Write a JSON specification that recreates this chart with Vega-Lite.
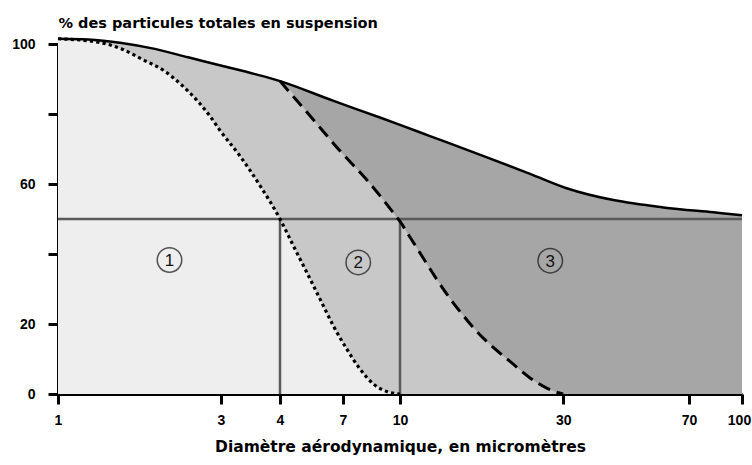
{
  "$schema": "https://vega.github.io/schema/vega-lite/v6.json",
  "width": 684,
  "height": 350,
  "autosize": {"type": "none"},
  "padding": {"left": 58, "top": 44, "right": 10, "bottom": 71},
  "background": "white",
  "config": {"view": {"stroke": null}},
  "datasets": {
    "courbes": [
      {"d": 1, "fraction": "inhalable", "v": 101.5},
      {"d": 1.226, "fraction": "inhalable", "v": 101.3},
      {"d": 1.536, "fraction": "inhalable", "v": 100.3},
      {"d": 1.921, "fraction": "inhalable", "v": 98.6},
      {"d": 2.404, "fraction": "inhalable", "v": 96.2},
      {"d": 3.01, "fraction": "inhalable", "v": 93.8},
      {"d": 3.54, "fraction": "inhalable", "v": 91.4},
      {"d": 4, "fraction": "inhalable", "v": 89.4},
      {"d": 6.4, "fraction": "inhalable", "v": 83.8},
      {"d": 8.82, "fraction": "inhalable", "v": 79.0},
      {"d": 10, "fraction": "inhalable", "v": 76.9},
      {"d": 12.24, "fraction": "inhalable", "v": 73.7},
      {"d": 17.1, "fraction": "inhalable", "v": 68.4},
      {"d": 24, "fraction": "inhalable", "v": 62.9},
      {"d": 30.7, "fraction": "inhalable", "v": 58.8},
      {"d": 42.1, "fraction": "inhalable", "v": 55.4},
      {"d": 58.9, "fraction": "inhalable", "v": 53.3},
      {"d": 82.4, "fraction": "inhalable", "v": 51.9},
      {"d": 100, "fraction": "inhalable", "v": 51.1},
      {"d": 1, "fraction": "thoracique", "v": 101.5},
      {"d": 1.226, "fraction": "thoracique", "v": 101.3},
      {"d": 1.536, "fraction": "thoracique", "v": 100.3},
      {"d": 1.921, "fraction": "thoracique", "v": 98.6},
      {"d": 2.404, "fraction": "thoracique", "v": 96.2},
      {"d": 3.01, "fraction": "thoracique", "v": 93.8},
      {"d": 3.54, "fraction": "thoracique", "v": 91.4},
      {"d": 4, "fraction": "thoracique", "v": 89.4},
      {"d": 5.22, "fraction": "thoracique", "v": 79.5},
      {"d": 6.81, "fraction": "thoracique", "v": 69.5},
      {"d": 8.12, "fraction": "thoracique", "v": 61.2},
      {"d": 9.59, "fraction": "thoracique", "v": 51.8},
      {"d": 10, "fraction": "thoracique", "v": 49.3},
      {"d": 10.7, "fraction": "thoracique", "v": 44.8},
      {"d": 11.7, "fraction": "thoracique", "v": 38.8},
      {"d": 12.8, "fraction": "thoracique", "v": 32.8},
      {"d": 14, "fraction": "thoracique", "v": 27.3},
      {"d": 15.31, "fraction": "thoracique", "v": 22.4},
      {"d": 16.76, "fraction": "thoracique", "v": 17.9},
      {"d": 18.74, "fraction": "thoracique", "v": 13.3},
      {"d": 20.97, "fraction": "thoracique", "v": 9.3},
      {"d": 24, "fraction": "thoracique", "v": 4.6},
      {"d": 26.85, "fraction": "thoracique", "v": 1.7},
      {"d": 29.4, "fraction": "thoracique", "v": 0.2},
      {"d": 30, "fraction": "thoracique", "v": 0},
      {"d": 1, "fraction": "alveolaire", "v": 101.5},
      {"d": 1.311, "fraction": "alveolaire", "v": 100.5},
      {"d": 1.536, "fraction": "alveolaire", "v": 98.6},
      {"d": 1.757, "fraction": "alveolaire", "v": 95.7},
      {"d": 2.055, "fraction": "alveolaire", "v": 92.2},
      {"d": 2.3, "fraction": "alveolaire", "v": 88.3},
      {"d": 2.6, "fraction": "alveolaire", "v": 83.0},
      {"d": 2.78, "fraction": "alveolaire", "v": 79.5},
      {"d": 2.98, "fraction": "alveolaire", "v": 75.3},
      {"d": 3.29, "fraction": "alveolaire", "v": 68.0},
      {"d": 3.63, "fraction": "alveolaire", "v": 59.5},
      {"d": 4, "fraction": "alveolaire", "v": 50},
      {"d": 4.5, "fraction": "alveolaire", "v": 42.4},
      {"d": 5.07, "fraction": "alveolaire", "v": 34.8},
      {"d": 5.71, "fraction": "alveolaire", "v": 27.1},
      {"d": 6.42, "fraction": "alveolaire", "v": 19.5},
      {"d": 7.16, "fraction": "alveolaire", "v": 12.9},
      {"d": 7.79, "fraction": "alveolaire", "v": 7.1},
      {"d": 8.46, "fraction": "alveolaire", "v": 2.9},
      {"d": 9.2, "fraction": "alveolaire", "v": 0.7},
      {"d": 10, "fraction": "alveolaire", "v": 0}
    ],
    "seuils": [
      {"d": 4, "bas": 0, "haut": 50},
      {"d": 10, "bas": 0, "haut": 50}
    ],
    "niveau": [
      {"debut": 1, "fin": 100, "v": 50}
    ],
    "zones": [
      {"d": 2.12, "v": 38.3, "num": "1"},
      {"d": 7.7, "v": 37.6, "num": "2"},
      {"d": 27.5, "v": 38.1, "num": "3"}
    ]
  },
  "encoding": {
    "x": {
      "field": "d",
      "type": "quantitative",
      "scale": {"type": "log", "domain": [1, 3, 4, 7, 10, 100], "range": [0, 163, 222, 285, 342, 684], "nice": false},
      "axis": {
        "values": [1, 3, 4, 7, 10, 30, 70, 100],
        "labelExpr": "'' + datum.value",
        "labelOffset": {"condition": {"test": "datum.value == 100", "value": -3}, "value": 0},
        "title": "Diamètre aérodynamique, en micromètres",
        "titleFont": "DejaVu Sans",
        "titleFontSize": 15.5,
        "titleFontWeight": "bold",
        "titleColor": "black",
        "titleY": 52,
        "titleBaseline": "middle",
        "labelFont": "Liberation Sans",
        "labelFontWeight": "bold",
        "labelFontSize": 14,
        "labelColor": "black",
        "labelPadding": 9,
        "labelFlush": false,
        "labelOverlap": false,
        "domainColor": "black",
        "domainWidth": 3,
        "tickColor": "black",
        "tickWidth": 3,
        "tickSize": 10,
        "grid": false
      }
    },
    "y": {
      "field": "v",
      "type": "quantitative",
      "scale": {"domain": [0, 100], "nice": false, "zero": false},
      "axis": {
        "values": [0, 20, 40, 60, 80, 100],
        "labelExpr": "datum.value == 40 || datum.value == 80 ? '' : datum.label",
        "title": "% des particules totales en suspension",
        "titleAngle": 0,
        "titleAlign": "left",
        "titleBaseline": "middle",
        "titleX": 0,
        "titleY": -21,
        "titleFont": "DejaVu Sans",
        "titleFontSize": 14.5,
        "titleFontWeight": "bold",
        "titleColor": "black",
        "labelFont": "Liberation Sans",
        "labelFontWeight": "bold",
        "labelFontSize": 14,
        "labelColor": "black",
        "labelPadding": 13,
        "domainColor": "black",
        "domainWidth": 3,
        "tickColor": "black",
        "tickWidth": 3,
        "tickSize": 10,
        "grid": false
      }
    }
  },
  "layer": [
    {
      "data": {"name": "courbes"},
      "transform": [{"filter": "datum.fraction == 'inhalable'"}],
      "mark": {"type": "area", "color": "#a6a6a6", "interpolate": "monotone"},
      "encoding": {"y": {"field": "v", "type": "quantitative", "stack": null}}
    },
    {
      "data": {"name": "courbes"},
      "transform": [{"filter": "datum.fraction == 'thoracique'"}],
      "mark": {"type": "area", "color": "#c8c8c8", "interpolate": "monotone"},
      "encoding": {"y": {"field": "v", "type": "quantitative", "stack": null}}
    },
    {
      "data": {"name": "courbes"},
      "transform": [{"filter": "datum.fraction == 'alveolaire'"}],
      "mark": {"type": "area", "color": "#eeeeee", "interpolate": "monotone"},
      "encoding": {"y": {"field": "v", "type": "quantitative", "stack": null}}
    },
    {
      "data": {"name": "niveau"},
      "mark": {"type": "rule", "color": "#5a5a5a", "strokeWidth": 2.5},
      "encoding": {
        "x": {"field": "debut", "type": "quantitative"},
        "x2": {"field": "fin"},
        "y": {"field": "v", "type": "quantitative"}
      }
    },
    {
      "data": {"name": "seuils"},
      "mark": {"type": "rule", "color": "#5a5a5a", "strokeWidth": 2.5},
      "encoding": {
        "y": {"field": "bas", "type": "quantitative"},
        "y2": {"field": "haut"}
      }
    },
    {
      "data": {"name": "courbes"},
      "transform": [{"filter": "datum.fraction == 'inhalable'"}],
      "mark": {"type": "line", "color": "black", "strokeWidth": 2.5, "interpolate": "monotone"},
      "encoding": {}
    },
    {
      "data": {"name": "courbes"},
      "transform": [{"filter": "datum.fraction == 'thoracique' && datum.d >= 4"}],
      "mark": {"type": "line", "color": "black", "strokeWidth": 3, "strokeDash": [13, 7], "interpolate": "monotone"},
      "encoding": {}
    },
    {
      "data": {"name": "courbes"},
      "transform": [{"filter": "datum.fraction == 'alveolaire'"}],
      "mark": {"type": "line", "color": "black", "strokeWidth": 3.2, "strokeDash": [3.2, 3.2], "interpolate": "monotone"},
      "encoding": {}
    },
    {
      "data": {"name": "zones"},
      "mark": {"type": "point", "shape": "circle", "filled": false, "size": 600, "stroke": "#111111", "strokeWidth": 1.5},
      "encoding": {}
    },
    {
      "data": {"name": "zones"},
      "mark": {"type": "text", "font": "Liberation Sans", "fontSize": 17, "color": "#111111", "baseline": "middle", "align": "center", "dy": 1},
      "encoding": {"text": {"field": "num"}}
    }
  ]
}
